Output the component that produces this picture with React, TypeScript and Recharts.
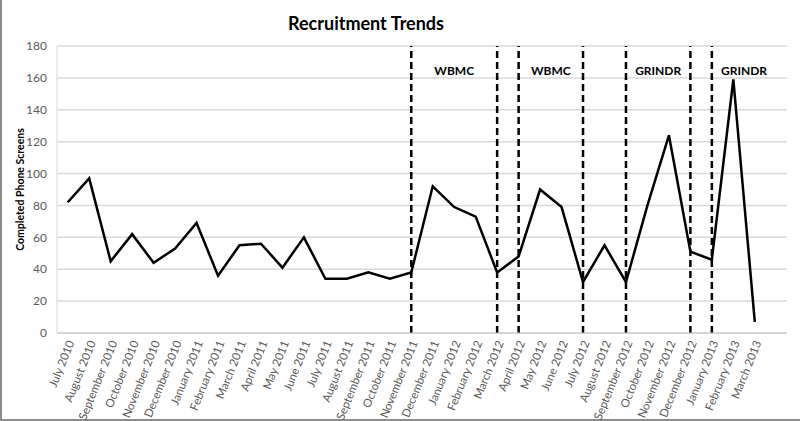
import React from "react";
import {
  LineChart,
  Line,
  XAxis,
  YAxis,
  CartesianGrid,
  ReferenceLine,
  ReferenceArea,
} from "recharts";

const months = [
  "July 2010", "August 2010", "September 2010", "October 2010", "November 2010", "December 2010",
  "January 2011", "February 2011", "March 2011", "April 2011", "May 2011", "June 2011",
  "July 2011", "August 2011", "September 2011", "October 2011", "November 2011", "December 2011",
  "January 2012", "February 2012", "March 2012", "April 2012", "May 2012", "June 2012",
  "July 2012", "August 2012", "September 2012", "October 2012", "November 2012", "December 2012",
  "January 2013", "February 2013", "March 2013", "April 2013",
];

// last category is an empty slot in the original axis
const screens: (number | null)[] = [
  82, 97, 45, 62, 44, 53, 69, 36, 55, 56, 41, 60,
  34, 34, 38, 34, 38, 92, 79, 73, 38, 48, 90, 79,
  32, 55, 32, 80, 124, 51, 46, 159, 7, null,
];

const yTicks = [0, 20, 40, 60, 80, 100, 120, 140, 160, 180];

const phaseLines = [
  "November 2011", "March 2012", "April 2012", "July 2012",
  "September 2012", "December 2012", "January 2013",
];

const campaigns = [
  { label: "WBMC", from: "November 2011", to: "March 2012" },
  { label: "WBMC", from: "April 2012", to: "July 2012" },
  { label: "GRINDR", from: "September 2012", to: "December 2012" },
  { label: "GRINDR", from: "January 2013", to: "April 2013" },
];

const data = months.map((month, i) => ({ month, screens: screens[i] }));

const FONT = "Lato, 'Open Sans', sans-serif";

function MonthTick(props: any) {
  const { x, y, payload } = props;
  if (payload.value === "April 2013") return null;
  return (
    <text
      transform={`translate(${x + 3},${y + 2}) rotate(-68)`}
      textAnchor="end"
      dy="0.35em"
      fontSize={11.5}
      fill="#595959"
      fontFamily={FONT}
    >
      {payload.value}
    </text>
  );
}

export default function App() {
  return (
    <div style={{ position: "absolute", left: 0, top: 0, width: 800, height: 421, background: "#fff", fontFamily: FONT }}>
      <div style={{ position: "absolute", left: 0, top: 0, width: 2, height: 421, background: "#8c8c8c" }} />
      <div style={{ position: "absolute", left: 0, top: 419, width: 800, height: 2, background: "#8c8c8c" }} />
      <div
        style={{
          position: "absolute",
          left: 266,
          width: 200,
          top: 12,
          textAlign: "center",
          fontWeight: 700,
          fontSize: 18,
          color: "#000",
        }}
      >
        Recruitment Trends
      </div>
      <LineChart
        width={800}
        height={421}
        data={data}
        margin={{ top: 46, right: 13, bottom: 0, left: 0 }}
        style={{ position: "absolute", left: 0, top: 0 }}
      >
        <CartesianGrid vertical={false} stroke="#d9d9d9" strokeWidth={1.5} />
        <XAxis
          dataKey="month"
          scale="band"
          interval={0}
          height={88}
          tickLine={false}
          stroke="#c8c8c8"
          tick={<MonthTick />}
          tickSize={6}
          tickMargin={0}
        />
        <YAxis
          width={57}
          domain={[0, 180]}
          ticks={yTicks}
          interval={0}
          tickLine={false}
          stroke="#d9d9d9"
          tickSize={6}
          tickMargin={4}
          tick={{ fontSize: 12, fill: "#595959", fontFamily: FONT }}
          label={{
            value: "Completed Phone Screens",
            angle: -90,
            position: "insideLeft",
            offset: 20,
            style: { textAnchor: "middle", fontSize: 10.5, fontWeight: 700, fill: "#000", fontFamily: FONT },
          }}
        />
        {phaseLines.map((m) => (
          <ReferenceLine key={m} x={m} stroke="#000" strokeWidth={2.5} strokeDasharray="7 4" />
        ))}
        {campaigns.map((c, i) => (
          <ReferenceArea
            key={i}
            x1={c.from}
            x2={c.to}
            fillOpacity={0}
            strokeOpacity={0}
            label={{
              value: c.label,
              position: "insideTop",
              offset: 20,
              style: { fontSize: 12, fontWeight: 700, fill: "#000", fontFamily: FONT },
            }}
          />
        ))}
        <Line
          type="linear"
          dataKey="screens"
          stroke="#000"
          strokeWidth={2.5}
          dot={false}
          isAnimationActive={false}
        />
      </LineChart>
    </div>
  );
}
